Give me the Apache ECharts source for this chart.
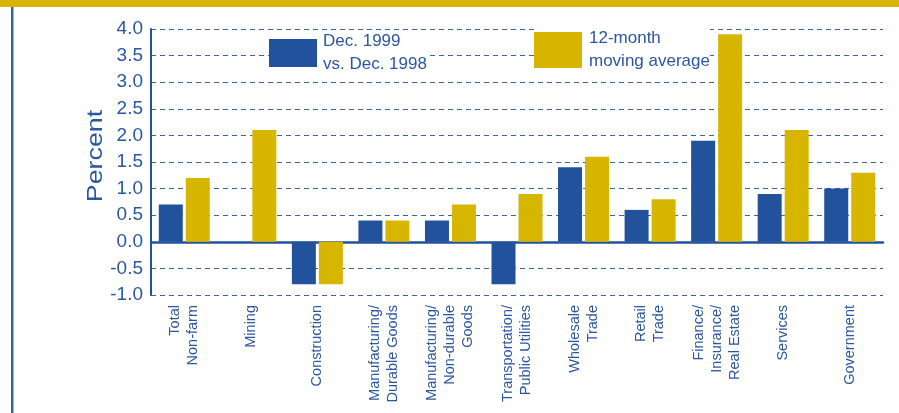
<!DOCTYPE html>
<html>
<head>
<meta charset="utf-8">
<script src="https://cdn.jsdelivr.net/npm/echarts@6/dist/echarts.min.js"></script>
<style>
  html, body { margin: 0; padding: 0; background: #fff; }
  #chart { width: 899px; height: 413px; }
</style>
</head>
<body>
<div id="chart"></div>
<script>
// categories along the x axis
const categories = [
  "Total\nNon-farm",
  "Mining",
  "Construction",
  "Manufacturing/\nDurable Goods",
  "Manufacturing/\nNon-durable\nGoods",
  "Transportation/\nPublic Utilities",
  "Wholesale\nTrade",
  "Retail\nTrade",
  "Finance/\nInsurance/\nReal Estate",
  "Services",
  "Government"
];
// Dec. 1999 vs. Dec. 1998
const decChange = [0.7, 0, -0.8, 0.4, 0.4, -0.8, 1.4, 0.6, 1.9, 0.9, 1.0];
// 12-month moving average
const movingAvg = [1.2, 2.1, -0.8, 0.4, 0.7, 0.9, 1.6, 0.8, 3.9, 2.1, 1.3];

const blue = "#22529b";
const gold = "#d6b600";
const textBlue = "#2b579f";

const chart = echarts.init(document.getElementById("chart"));
chart.setOption({
  animation: false,
  textStyle: { fontFamily: "Liberation Sans, Arial, sans-serif" },
  graphic: [
    { type: "rect", shape: { x: 0, y: 0, width: 899, height: 7 }, style: { fill: gold } },
    { type: "rect", shape: { x: 11, y: 7, width: 2.5, height: 406 }, style: { fill: "#3a63a8" } },
    // y axis title, drawn a little wide like the original
    {
      type: "text",
      x: 96, y: 156,
      rotation: Math.PI / 2,
      scaleX: 1.22,
      style: {
        text: "Percent",
        fill: textBlue,
        font: "22px Liberation Sans, Arial, sans-serif",
        align: "center",
        verticalAlign: "middle"
      }
    }
  ],
  legend: [
    {
      data: ["Dec. 1999\nvs. Dec. 1998"],
      left: 269, top: 30,
      icon: "rect",
      itemWidth: 48, itemHeight: 28, itemGap: 0,
      padding: 0,
      backgroundColor: "#fff",
      textStyle: { color: textBlue, fontSize: 17, lineHeight: 23, padding: [0, 0, 0, 1] }
    },
    {
      data: ["12-month\nmoving average"],
      left: 534, top: 27,
      icon: "rect",
      itemWidth: 48, itemHeight: 36, itemGap: 0,
      padding: 0,
      backgroundColor: "#fff",
      textStyle: { color: textBlue, fontSize: 17, lineHeight: 23, padding: [0, 0, 0, 2] }
    }
  ],
  grid: { left: 151, right: 16, top: 29, bottom: 118 },
  xAxis: {
    type: "category",
    data: categories,
    axisLine: { onZero: true, lineStyle: { color: blue, width: 2.5 } },
    axisTick: { show: false },
    axisLabel: {
      interval: 0,
      rotate: 90,
      margin: 10,
      color: textBlue,
      fontSize: 14.5,
      lineHeight: 18
    }
  },
  yAxis: {
    type: "value",
    min: -1,
    max: 4,
    interval: 0.5,
    axisLine: { show: true, lineStyle: { color: blue, width: 2 } },
    axisTick: { show: false },
    axisLabel: {
      color: textBlue,
      fontSize: 19,
      margin: 8,
      formatter: v => v.toFixed(1)
    },
    splitLine: {
      lineStyle: { color: "#3a63a8", width: 1, type: [5, 4] }
    }
  },
  series: [
    {
      name: "Dec. 1999\nvs. Dec. 1998",
      type: "bar",
      data: decChange,
      barWidth: 24,
      barGap: "12.5%",
      itemStyle: { color: blue }
    },
    {
      name: "12-month\nmoving average",
      type: "bar",
      data: movingAvg,
      barWidth: 24,
      itemStyle: { color: gold }
    }
  ]
});
</script>
</body>
</html>
